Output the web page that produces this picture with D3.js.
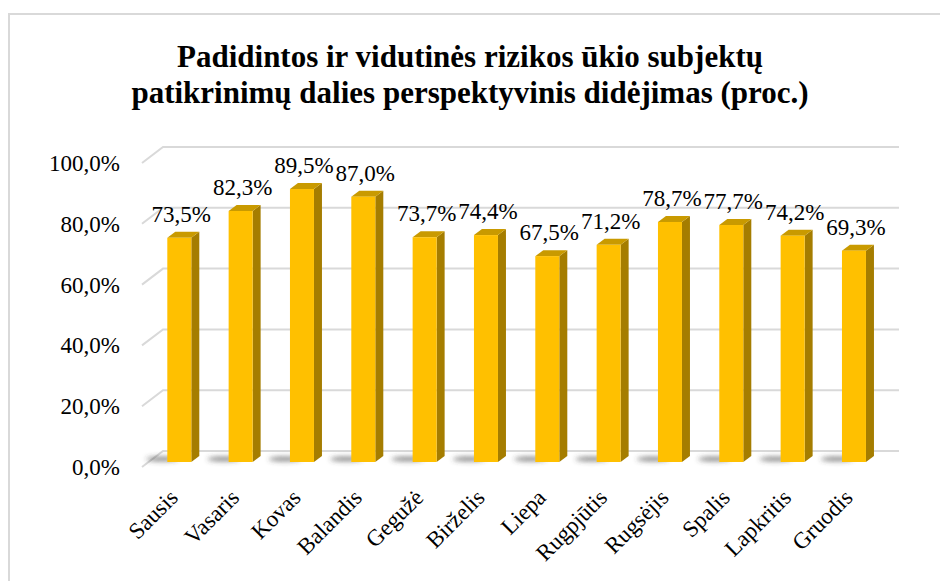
<!DOCTYPE html>
<html>
  <head><meta charset="utf-8"></head>
  <body style="margin:0">
    <svg id="chart" width="940" height="581"></svg>
  </body>
  <script src="https://d3js.org/d3.v7.min.js"></script>
  <script>
    // menesiai ir reiksmes (proc.)
    var months = ["Sausis","Vasaris","Kovas","Balandis","Gegužė","Birželis","Liepa","Rugpjūtis","Rugsėjis","Spalis","Lapkritis","Gruodis"]
    var values = [73.5, 82.3, 89.5, 87.0, 73.7, 74.4, 67.5, 71.2, 78.7, 77.7, 74.2, 69.3]
    var ticks = [0, 20, 40, 60, 80, 100]
    var titleLines = ["Padidintos ir vidutinės rizikos ūkio subjektų", "patikrinimų dalies perspektyvinis didėjimas (proc.)"]

    var serif = "'Liberation Serif'"
    var svg = d3.select("#chart")
    var fmt = function(v){ return d3.format(".1f")(v).replace(".", ",") + "%" }

    // depth of the 3d box
    var dx = 21, dy = -16
    var x = d3.scaleBand().domain(months).range([142, 878])
    var yFront = d3.scaleLinear().domain([0, 100]).range([467, 163])
    var yBack = d3.scaleLinear().domain([0, 100]).range([451, 147])
    var yBar = d3.scaleLinear().domain([0, 100]).range([462, 157])
    var barW = 24, barDx = 8, barDy = -6
    var barOff = 25.3

    var defs = svg.append("defs")
    defs.append("filter").attr("id", "blur").attr("x", "-50%").attr("y", "-200%").attr("width", "200%").attr("height", "500%")
      .append("feGaussianBlur").attr("stdDeviation", 2.5)

    // outer border (only top and left are inside the picture)
    svg.append("path").attr("d", "M9,590 L9,14 L950,14")
      .attr("fill", "none").attr("stroke", "#d9d9d9").attr("stroke-width", 2)

    // gridlines with the slanted left wall edge
    var x0 = x.range()[0], x1 = x.range()[1]
    svg.append("g").selectAll("path").data(ticks).enter()
      .append("path")
      .attr("d", function(t){
        return "M" + x0 + "," + yFront(t) + " L" + (x0 + dx) + "," + yBack(t) + " L" + (x1 + dx) + "," + yBack(t)
      })
      .attr("fill", "none").attr("stroke", "#d9d9d9").attr("stroke-width", 2)

    // shadows on the floor
    svg.append("g").attr("filter", "url(#blur)").selectAll("ellipse").data(months).enter()
      .append("ellipse")
      .attr("cx", function(m){ return x(m) + barOff - 5 })
      .attr("cy", yBar(0) - 3)
      .attr("rx", 16).attr("ry", 2.5)
      .attr("fill", "#404040").attr("opacity", 0.6)

    var bars = svg.append("g").selectAll("g").data(values).enter().append("g")
    bars.append("path")
      .attr("d", function(v, i){
        var l = x(months[i]) + barOff + barW, t = yBar(v), b = yBar(0)
        return "M" + l + "," + b + " L" + l + "," + t + " L" + (l + barDx) + "," + (t + barDy) + " L" + (l + barDx) + "," + (b + barDy) + "Z"
      })
      .attr("fill", "#a57d00")
    bars.append("path")
      .attr("d", function(v, i){
        var l = x(months[i]) + barOff, t = yBar(v)
        return "M" + l + "," + t + " L" + (l + barDx) + "," + (t + barDy) + " L" + (l + barW + barDx) + "," + (t + barDy) + " L" + (l + barW) + "," + t + "Z"
      })
      .attr("fill", "#c99a00")
    bars.append("rect")
      .attr("x", function(v, i){ return x(months[i]) + barOff })
      .attr("y", function(v){ return yBar(v) })
      .attr("width", barW)
      .attr("height", function(v){ return yBar(0) - yBar(v) })
      .attr("fill", "#ffc000")

    // all the texts
    svg.append("g").selectAll("text").data(titleLines).enter()
      .append("text")
      .attr("x", 470).attr("y", function(d, i){ return 67 + i * 36 })
      .attr("text-anchor", "middle").attr("font-weight", "bold").attr("font-size", 31)
      .style("font-family", serif).text(function(d){ return d })

    svg.append("g").selectAll("text").data(ticks).enter()
      .append("text")
      .attr("x", 120).attr("y", function(t){ return yFront(t) + 8 })
      .attr("text-anchor", "end").attr("font-size", 23).style("font-family", serif)
      .text(fmt)

    svg.append("g").selectAll("text").data(values).enter()
      .append("text")
      .attr("x", function(v, i){ return x(months[i]) + barOff + barW / 2 + 2 })
      .attr("y", function(v){ return yBar(v) - 16 })
      .attr("text-anchor", "middle").attr("font-size", 23).style("font-family", serif)
      .text(fmt)

    svg.append("g").selectAll("text").data(months).enter()
      .append("text")
      .attr("transform", function(m){ return "translate(" + (x(m) + barOff + barW / 2) + ",499) rotate(-45)" })
      .attr("text-anchor", "end").attr("font-size", 23).style("font-family", serif)
      .text(function(m){ return m })
  </script>
</html>
